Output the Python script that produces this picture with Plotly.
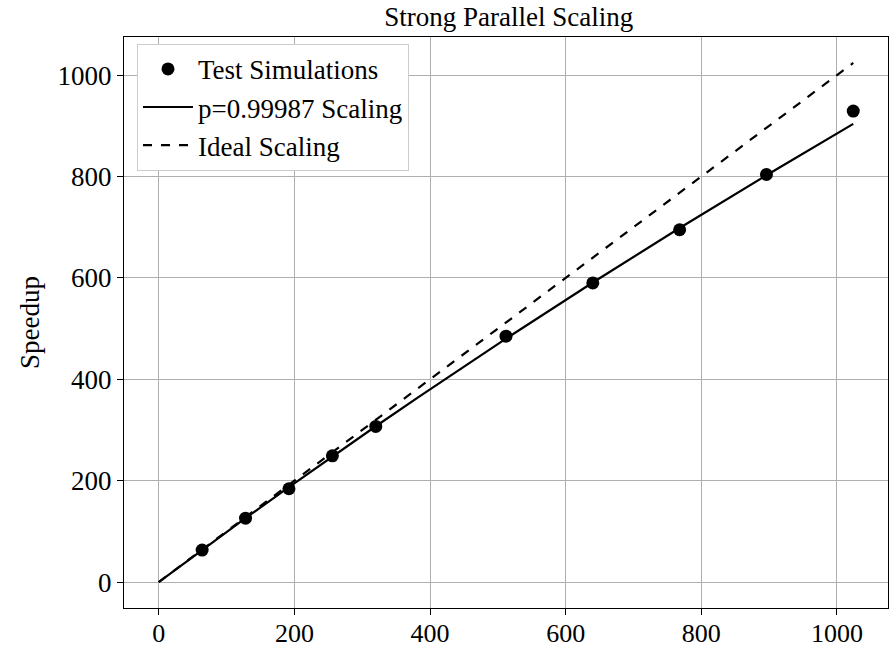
import plotly.graph_objects as go

# Data
procs = [64, 128, 192, 256, 320, 512, 640, 768, 896, 1024]
speedup = [63, 126, 184, 249, 307, 485, 590, 695, 804, 929]
fit_x = [0, 64, 128, 192, 256, 320, 384, 512, 640, 768, 896, 1024]
fit_y = [0, 63.5, 125.9, 187.4, 247.8, 307.3, 365.8, 480.1, 590.9, 698.4, 802.6, 903.8]
ideal_x = [0, 1024]
ideal_y = [0, 1024]

FONT = "Liberation Serif"
FS = 27

fig = go.Figure()
fig.add_trace(go.Scatter(x=procs, y=speedup, mode="markers", name="Test Simulations",
                         marker=dict(color="black", size=13)))
fig.add_trace(go.Scatter(x=fit_x, y=fit_y, mode="lines", name="p=0.99987 Scaling",
                         line=dict(color="black", width=2.2)))
fig.add_trace(go.Scatter(x=ideal_x, y=ideal_y, mode="lines", name="Ideal Scaling",
                         line=dict(color="black", width=2.2, dash="dash")))

axis_common = dict(
    showgrid=True, gridcolor="#b0b0b0", gridwidth=1,
    showline=True, linecolor="black", linewidth=1.2, mirror=True,
    ticks="outside", ticklen=6, tickcolor="black",
    zeroline=False, automargin=False,
)

fig.update_layout(
    width=894, height=652,
    margin=dict(l=124, r=6, t=37, b=44),
    paper_bgcolor="white", plot_bgcolor="white",
    font=dict(family=FONT, color="black"),
    title=dict(text="Strong Parallel Scaling", x=0.569, xanchor="center",
               y=0.974, yanchor="middle", font=dict(family=FONT, size=FS)),
    xaxis=dict(range=[-51.2, 1075.2], tickvals=[0, 200, 400, 600, 800, 1000],
               tickfont=dict(family=FONT, size=26, color="black"),
               ticklabelstandoff=-4, **axis_common),
    yaxis=dict(range=[-51.2, 1075.2], tickvals=[0, 200, 400, 600, 800, 1000],
               tickfont=dict(family=FONT, size=FS, color="black"),
               title=dict(text="Speedup", font=dict(family=FONT, size=FS), standoff=10),
               **axis_common),
    legend=dict(x=0.017, y=0.988, xanchor="left", yanchor="top",
                bgcolor="white", bordercolor="#cccccc", borderwidth=1,
                font=dict(family=FONT, size=FS), tracegroupgap=0,
                itemwidth=50, entrywidth=320, entrywidthmode="pixels"),
    showlegend=True,
)

fig.write_html("out.html")
